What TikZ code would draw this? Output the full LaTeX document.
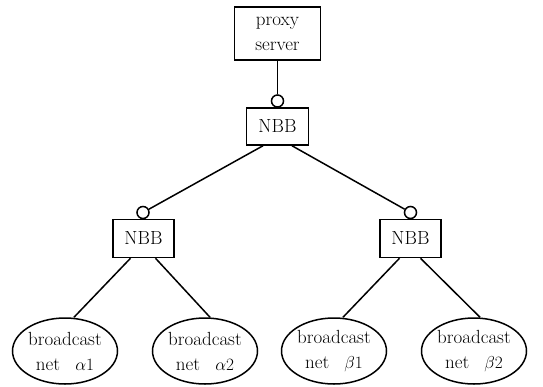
\documentclass[tikz,border=0pt]{standalone}
\usetikzlibrary{shapes.geometric}
\begin{document}
\begin{tikzpicture}[x=1pt,y=-1pt,
  every node/.style={font=\fontsize{19}{25}\selectfont},
  link/.style={line width=1.5pt},
  boxnode/.style={draw,line width=1.5pt,rectangle,inner sep=0pt,align=center},
  netnode/.style={draw,line width=1.5pt,ellipse,inner sep=0pt,align=center,
    minimum width=105pt,minimum height=66pt},
  socket/.style={draw,line width=1.5pt,circle,inner sep=0pt,minimum size=12pt}]
\useasboundingbox (0,0) rectangle (543,386);

% hierarchy of boxes
\node[boxnode,minimum width=86pt,minimum height=53pt] (proxy) at (277.5,33.5) {proxy\\server};
\node[boxnode,minimum width=62pt,minimum height=37pt] (top) at (277.5,126.5) {NBB};
\node[boxnode,minimum width=61pt,minimum height=38pt] (left) at (143.5,238.5) {NBB};
\node[boxnode,minimum width=61pt,minimum height=38pt] (right) at (410.5,238.5) {NBB};

% sockets sitting on top of the NBB boxes
\node[socket] (s0) at (277.5,101) {};
\node[socket] (s1) at (143,212.5) {};
\node[socket] (s2) at (410.5,212.5) {};

% broadcast networks
\node[netnode] (a1) at (65,351) {broadcast\\net\hspace{0.8em}$\alpha1$};
\node[netnode] (a2) at (205,351) {broadcast\\net\hspace{0.8em}$\alpha2$};
\node[netnode] (b1) at (334,351) {broadcast\\net\hspace{0.8em}$\beta1$};
\node[netnode] (b2) at (474,351) {broadcast\\net\hspace{0.8em}$\beta2$};

% connectors
\draw[link] (proxy) -- (s0);
\draw[link] ([xshift=-14.5pt]top.south) -- (s1);
\draw[link] ([xshift=14.5pt]top.south) -- (s2);
\draw[link] ([xshift=-13pt]left.south) -- ([xshift=9pt]a1.north);
\draw[link] ([xshift=12pt]left.south) -- ([xshift=5pt]a2.north);
\draw[link] ([xshift=-11pt]right.south) -- ([xshift=9pt]b1.north);
\draw[link] ([xshift=10pt]right.south) -- ([xshift=6pt]b2.north);
\end{tikzpicture}
\end{document}
